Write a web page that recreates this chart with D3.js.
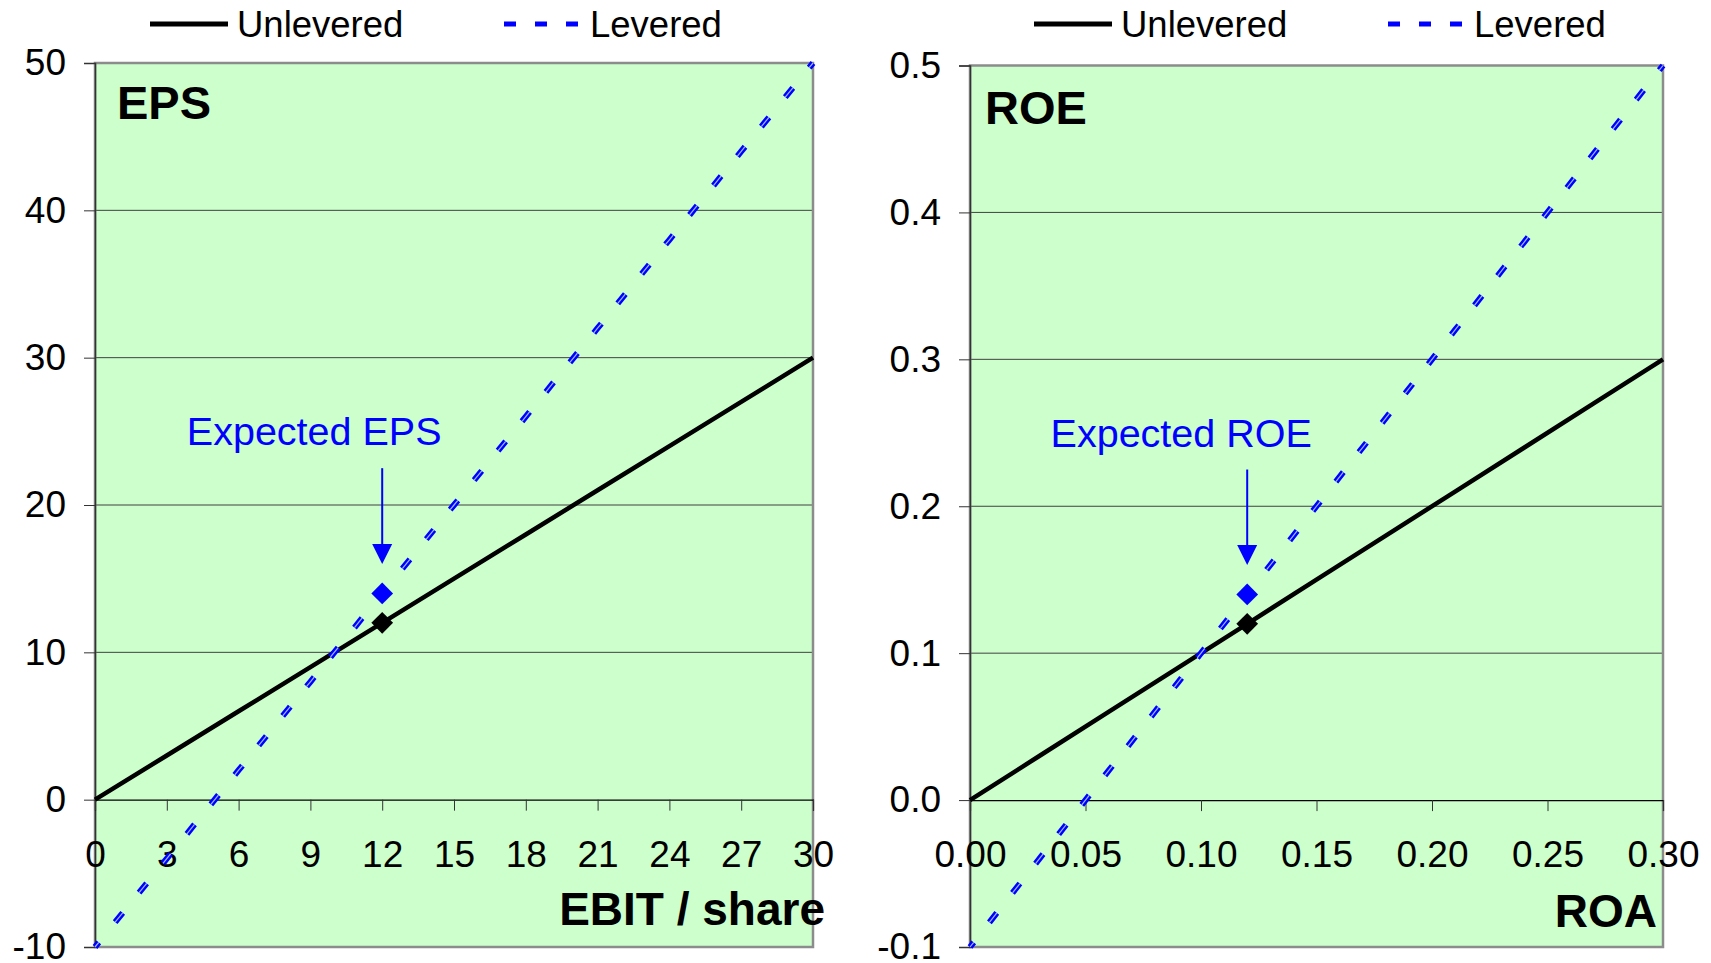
<!DOCTYPE html>
<html>
<head>
<meta charset="utf-8">
<script src="https://cdn.jsdelivr.net/npm/d3@7"></script>
<style>
  html, body { margin: 0; padding: 0; background: #ffffff; }
  svg { display: block; font-family: "Liberation Sans", Arial, Helvetica, sans-serif; }
</style>
</head>
<body>
<svg id="chart" width="1711" height="963"></svg>
<script>
// ---- EPS panel data ----
const ebitPerShare   = [0, 3, 6, 9, 12, 15, 18, 21, 24, 27, 30];
const epsUnlevered   = [0, 3, 6, 9, 12, 15, 18, 21, 24, 27, 30];
const epsLevered     = [-10, -4, 2, 8, 14, 20, 26, 32, 38, 44, 50];
const epsXTicks      = [0, 3, 6, 9, 12, 15, 18, 21, 24, 27, 30];
const epsYTicks      = [-10, 0, 10, 20, 30, 40, 50];
const epsExpected    = { x: 12, unlevered: 12, levered: 14 };
const epsArrow       = { x: 12, from: 22.5, to: 16 };

// ---- ROE panel data ----
const roa            = [0, 0.03, 0.06, 0.09, 0.12, 0.15, 0.18, 0.21, 0.24, 0.27, 0.30];
const roeUnlevered   = [0, 0.03, 0.06, 0.09, 0.12, 0.15, 0.18, 0.21, 0.24, 0.27, 0.30];
const roeLevered     = [-0.1, -0.04, 0.02, 0.08, 0.14, 0.20, 0.26, 0.32, 0.38, 0.44, 0.50];
const roeXTicks      = [0, 0.05, 0.10, 0.15, 0.20, 0.25, 0.30];
const roeYTicks      = [-0.1, 0, 0.1, 0.2, 0.3, 0.4, 0.5];
const roeExpected    = { x: 0.12, unlevered: 0.12, levered: 0.14 };
const roeArrow       = { x: 0.12, from: 0.225, to: 0.16 };

const seriesNames = ["Unlevered", "Levered"];

const svg = d3.select("#chart");

const BG = "#ccffcc";
const BLUE = "#0000ff";
const hyphenate = f => v => f(v).replace("\u2212", "-");

function drawPanel(cfg) {
  const x = d3.scaleLinear().domain(cfg.xDomain).range([cfg.left, cfg.right]);
  const y = d3.scaleLinear().domain(cfg.yDomain).range([cfg.bottom, cfg.top]);
  const g = svg.append("g");

  // plot area
  g.append("rect")
    .attr("x", cfg.left).attr("y", cfg.top)
    .attr("width", cfg.right - cfg.left).attr("height", cfg.bottom - cfg.top)
    .attr("fill", BG);

  // horizontal gridlines
  g.selectAll(".grid").data(cfg.yTicks.filter(v => v !== cfg.yDomain[0] && v !== cfg.yDomain[1] && v !== 0))
    .join("line")
    .attr("x1", cfg.left).attr("x2", cfg.right)
    .attr("y1", d => y(d)).attr("y2", d => y(d))
    .attr("stroke", "#404040").attr("stroke-width", 1);

  // frame
  g.append("rect")
    .attr("x", cfg.left).attr("y", cfg.top)
    .attr("width", cfg.right - cfg.left).attr("height", cfg.bottom - cfg.top)
    .attr("fill", "none").attr("stroke", "#8c8c8c").attr("stroke-width", 2.5);

  // y axis (left edge, outside ticks)
  const yAxis = d3.axisLeft(y).tickValues(cfg.yTicks).tickSize(11).tickPadding(18)
    .tickFormat(hyphenate(cfg.yFormat));
  const ya = g.append("g").attr("transform", `translate(${cfg.left},0)`).call(yAxis);
  ya.select(".domain").attr("stroke", "#333").attr("stroke-width", 1.5);
  ya.selectAll(".tick line").attr("stroke", "#333");
  ya.selectAll("text").attr("font-size", 37).attr("fill", "#000")
    .attr("font-family", "Liberation Sans, Arial, sans-serif");

  // x axis at zero, ticks hanging into the plot
  const xAxis = d3.axisBottom(x).tickValues(cfg.xTicks).tickSize(11).tickPadding(30)
    .tickFormat(cfg.xFormat);
  const xa = g.append("g").attr("transform", `translate(0,${y(0)})`).call(xAxis);
  xa.select(".domain").attr("stroke", "#000").attr("stroke-width", 1.2);
  xa.selectAll(".tick line").attr("stroke", "#333");
  xa.selectAll("text").attr("font-size", 37).attr("fill", "#000")
    .attr("font-family", "Liberation Sans, Arial, sans-serif");

  const line = d3.line().x(d => x(d[0])).y(d => y(d[1]));

  // unlevered line
  g.append("path")
    .attr("d", line(cfg.xs.map((v, i) => [v, cfg.unlevered[i]])))
    .attr("fill", "none").attr("stroke", "#000").attr("stroke-width", 4.5);

  // levered dashed line: one dash per two-step rise of the y value
  const levPath = line(cfg.xs.map((v, i) => [v, cfg.levered[i]]));
  const lev = g.append("path").attr("d", levPath)
    .attr("fill", "none").attr("stroke", BLUE).attr("stroke-width", 6);
  const period = lev.node().getTotalLength() / cfg.dashCount;
  const dash = 12;
  lev.attr("stroke-dasharray", `${dash} ${period - dash}`)
     .attr("stroke-dashoffset", dash / 2);
  g.append("path").attr("d", levPath)
    .attr("fill", "none").attr("stroke", "#9fb8ff").attr("stroke-width", 1.2)
    .attr("stroke-dasharray", `${dash} ${period - dash}`)
    .attr("stroke-dashoffset", dash / 2);

  // expected-value markers
  const diamond = d3.symbol().type(d3.symbolDiamond2).size(300);
  g.append("path").attr("d", diamond())
    .attr("transform", `translate(${x(cfg.expected.x)},${y(cfg.expected.levered)})`)
    .attr("fill", BLUE);
  g.append("path").attr("d", diamond())
    .attr("transform", `translate(${x(cfg.expected.x)},${y(cfg.expected.unlevered)})`)
    .attr("fill", "#000");

  // annotation arrow
  const ax = x(cfg.arrow.x), ay1 = y(cfg.arrow.from), ay2 = y(cfg.arrow.to);
  g.append("line").attr("x1", ax).attr("x2", ax).attr("y1", ay1).attr("y2", ay2 - 18)
    .attr("stroke", BLUE).attr("stroke-width", 2);
  g.append("path")
    .attr("d", `M${ax - 10},${ay2 - 20} L${ax + 10},${ay2 - 20} L${ax},${ay2} Z`)
    .attr("fill", BLUE);
  g.append("text")
    .attr("x", ax + cfg.annotationDx).attr("y", ay1 - 37)
    .attr("text-anchor", "middle").attr("dominant-baseline", "central")
    .attr("font-size", 39.5).attr("fill", BLUE)
    .text(cfg.annotation);

  // panel title and axis title
  g.append("text")
    .attr("x", cfg.left + cfg.titleDx).attr("y", cfg.top + cfg.titleDy)
    .attr("dominant-baseline", "central")
    .attr("font-size", 47).attr("font-weight", "bold")
    .text(cfg.title);
  g.append("text")
    .attr("x", cfg.right + cfg.xTitleDx).attr("y", cfg.xTitleY)
    .attr("text-anchor", "end").attr("dominant-baseline", "central")
    .attr("font-size", 46).attr("font-weight", "bold")
    .text(cfg.xTitle);

  // legend
  const lg = svg.append("g").attr("transform", `translate(${cfg.legendX},24)`);
  lg.append("line").attr("x1", 0).attr("x2", 78).attr("y1", 0).attr("y2", 0)
    .attr("stroke", "#000").attr("stroke-width", 5);
  lg.append("text").attr("x", 87).attr("y", 0).attr("dominant-baseline", "central")
    .attr("font-size", 36.5).text(seriesNames[0]);
  lg.append("line").attr("x1", 354).attr("x2", 428).attr("y1", 0).attr("y2", 0)
    .attr("stroke", BLUE).attr("stroke-width", 5).attr("stroke-dasharray", "12 19");
  lg.append("text").attr("x", 440).attr("y", 0).attr("dominant-baseline", "central")
    .attr("font-size", 36.5).text(seriesNames[1]);
}

drawPanel({
  left: 95, right: 813, top: 63, bottom: 947,
  xDomain: [0, 30], yDomain: [-10, 50],
  xs: ebitPerShare, unlevered: epsUnlevered, levered: epsLevered,
  xTicks: epsXTicks, yTicks: epsYTicks, dashCount: 30,
  xFormat: d3.format("d"), yFormat: d3.format("d"),
  expected: epsExpected, arrow: epsArrow,
  annotation: "Expected EPS", annotationDx: -68,
  title: "EPS", titleDx: 22, titleDy: 39,
  xTitle: "EBIT / share", xTitleDx: 12, xTitleY: 909,
  legendX: 150
});

drawPanel({
  left: 970, right: 1663, top: 65.5, bottom: 947,
  xDomain: [0, 0.30], yDomain: [-0.1, 0.5],
  xs: roa, unlevered: roeUnlevered, levered: roeLevered,
  xTicks: roeXTicks, yTicks: roeYTicks, dashCount: 30,
  xFormat: d3.format(".2f"), yFormat: d3.format(".1f"),
  expected: roeExpected, arrow: roeArrow,
  annotation: "Expected ROE", annotationDx: -66,
  title: "ROE", titleDx: 15, titleDy: 42,
  xTitle: "ROA", xTitleDx: -6, xTitleY: 911,
  legendX: 1034
});
</script>
</body>
</html>
